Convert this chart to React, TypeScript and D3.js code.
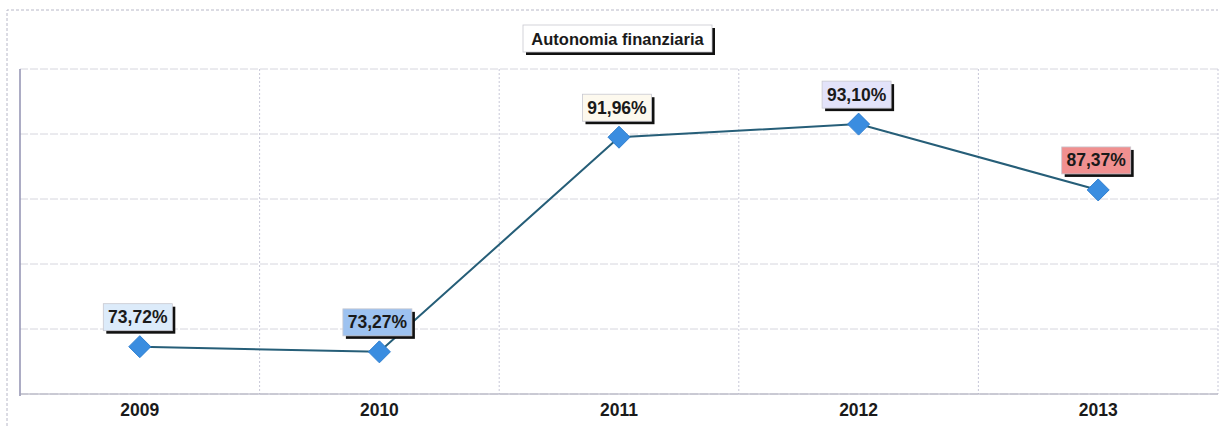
import React from "react";
import * as d3 from "d3";

const years = ["2009", "2010", "2011", "2012", "2013"];
const values = [73.72, 73.27, 91.96, 93.1, 87.37];
const labels = ["73,72%", "73,27%", "91,96%", "93,10%", "87,37%"];
const labelFills = ["#dcebfa", "#9dc2f0", "#fdf9ee", "#e3e3fa", "#f09090"];
const title = "Autonomia finanziaria";
const yDomain = [69.6, 97.9];
const gridCount = 5;

export default function App() {
  const W = 1224, H = 426;
  const m = { left: 20, right: 6, top: 69, bottom: 32 };
  const x = d3.scaleBand().domain(years).range([m.left, W - m.right]).padding(0);
  const y = d3.scaleLinear().domain(yDomain).range([H - m.bottom, m.top]);
  const gridVals = d3.range(gridCount + 1).map((i) => yDomain[0] + ((yDomain[1] - yDomain[0]) * i) / gridCount);
  const cx = (d: string) => (x(d) as number) + x.bandwidth() / 2;
  const line = d3.line<number>().x((_, i) => cx(years[i])).y((v) => y(v));
  const font = "Arial, 'Liberation Sans', sans-serif";
  const bw = 69, bh = 27;
  return (
    <svg width={W} height={H} style={{ position: "absolute", left: 0, top: 0 }}>
      <rect x={0} y={0} width={W} height={H} fill="#ffffff" />
      <path d={`M7,${H} V10 H1218`} fill="none" stroke="#b8b8c8" strokeDasharray="3,2" />
      {gridVals.map((g, i) => (
        <line key={"h" + i} x1={m.left} x2={W - m.right} y1={y(g)} y2={y(g)} stroke="#d6d6de" strokeDasharray="8,2" />
      ))}
      {years.slice(1).map((yr) => (
        <line key={"v" + yr} x1={x(yr)} x2={x(yr)} y1={m.top} y2={H - m.bottom} stroke="#c8c8d8" strokeDasharray="2,2" />
      ))}
      <line x1={W - m.right} x2={W - m.right} y1={m.top} y2={H - m.bottom} stroke="#c8c8d8" strokeDasharray="2,2" />
      <line x1={m.left} x2={m.left} y1={m.top} y2={H - m.bottom + 2} stroke="#9090b0" strokeWidth={1.5} />
      <line x1={m.left} x2={W - m.right} y1={H - m.bottom} y2={H - m.bottom} stroke="#a8a8b8" />
      <path d={line(values) as string} fill="none" stroke="#265e78" strokeWidth={2} />
      {values.map((v, i) => {
        const px = cx(years[i]);
        const py = y(v);
        const s = 11;
        return (
          <path key={"m" + i} d={`M${px},${py - s} L${px + s},${py} L${px},${py + s} L${px - s},${py} Z`} fill="#3a8de0" stroke="#2f7fd0" strokeWidth={1} />
        );
      })}
      {values.map((v, i) => {
        const px = cx(years[i]) - 2;
        const py = y(v);
        const bx = px - bw / 2;
        const by = py - 16 - bh;
        return (
          <g key={"l" + i}>
            <rect x={bx + 3} y={by + 3} width={bw} height={bh} fill="#111" />
            <rect x={bx} y={by} width={bw} height={bh} fill={labelFills[i]} stroke="#c8c8d0" strokeWidth={0.8} />
            <text x={bx + bw / 2} y={by + bh / 2 + 6} textAnchor="middle" fontFamily={font} fontWeight="bold" fontSize={17.5} fill="#1a1a1a">
              {labels[i]}
            </text>
          </g>
        );
      })}
      {years.map((yr) => (
        <text key={"t" + yr} x={cx(yr)} y={H - 10} textAnchor="middle" fontFamily={font} fontWeight="bold" fontSize={17.5} fill="#1a1a1a">
          {yr}
        </text>
      ))}
      <g>
        <rect x={526} y={28} width={189} height={27} fill="#111" />
        <rect x={523} y={25} width={189} height={27} fill="#ffffff" stroke="#c8c8d0" strokeWidth={0.8} />
        <text x={617.5} y={44.5} textAnchor="middle" fontFamily={font} fontWeight="bold" fontSize={16.5} fill="#1a1a1a">
          {title}
        </text>
      </g>
    </svg>
  );
}
